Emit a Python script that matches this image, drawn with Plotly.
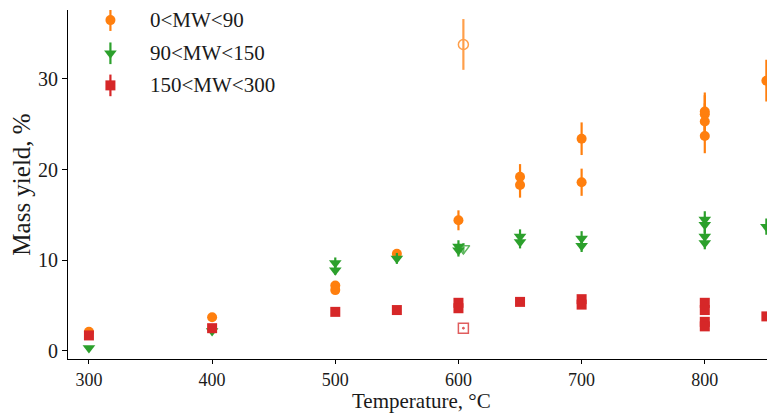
import plotly.graph_objects as go

# ---- data ----
t_low = [300, 400, 500, 500, 550, 600, 650, 650, 700, 700, 800, 800, 800, 800, 850]
y_low = [2.1, 3.7, 7.2, 6.7, 10.7, 14.4, 19.2, 18.3, 23.4, 18.6, 26.4, 26.1, 25.3, 23.7, 29.8]
e_low = [0.15, 0.2, 0.35, 0.35, 0.5, 1.1, 1.4, 1.4, 1.8, 1.5, 2.1, 2.1, 2.0, 1.9, 2.3]

t_mid = [300, 400, 500, 500, 550, 600, 600, 650, 650, 700, 700, 800, 800, 800, 800, 850]
y_mid = [0.3, 2.2, 9.7, 8.9, 10.2, 11.5, 11.1, 12.6, 12.0, 12.4, 11.6, 14.5, 13.9, 12.6, 11.9, 13.7]
e_mid = [0.05, 0.2, 0.6, 0.5, 0.6, 0.7, 0.7, 0.8, 0.7, 0.8, 0.7, 0.9, 0.9, 0.8, 0.7, 0.9]

t_high = [300, 400, 500, 550, 600, 600, 650, 700, 700, 800, 800, 800, 800, 850]
y_high = [1.7, 2.5, 4.3, 4.5, 5.3, 4.7, 5.4, 5.7, 5.1, 5.3, 4.5, 3.2, 2.7, 3.8]
e_high = [0.1, 0.1, 0.15, 0.15, 0.2, 0.2, 0.2, 0.2, 0.2, 0.2, 0.2, 0.15, 0.1, 0.15]

# hollow (separate) measurement
t_open = [604]
y_open_low = [33.8]
e_open_low = [2.8]
y_open_mid = [11.3]
e_open_mid = [0.6]
y_open_high = [2.5]
e_open_high = [0.1]

labels = ["0<MW<90", "90<MW<150", "150<MW<300"]
x_title = "Temperature, °C"
y_title = "Mass yield, %"
x_ticks = [300, 400, 500, 600, 700, 800]
y_ticks = [0, 10, 20, 30]

C_OR = "#ff7f0e"
C_GR = "#2ca02c"
C_RD = "#d62728"
FONT = "Liberation Serif"
TXT = "#1a1a1a"

fig = go.Figure()


def err(e, c, th=2.2):
    return dict(type="data", array=e, visible=True, color=c, thickness=th, width=0)


fig.add_trace(go.Scatter(x=t_low, y=y_low, mode="markers",
                         marker=dict(symbol="circle", size=10, color=C_OR),
                         error_y=err(e_low, C_OR), showlegend=False))
fig.add_trace(go.Scatter(x=t_mid, y=y_mid, mode="markers",
                         marker=dict(symbol="triangle-down", size=11, color=C_GR),
                         error_y=err(e_mid, C_GR), showlegend=False))
fig.add_trace(go.Scatter(x=t_high, y=y_high, mode="markers",
                         marker=dict(symbol="square", size=10, color=C_RD),
                         error_y=err(e_high, C_RD), showlegend=False))

fig.add_trace(go.Scatter(x=t_open, y=y_open_low, mode="markers", opacity=0.75,
                         marker=dict(symbol="circle-open", size=10, color=C_OR, line=dict(width=1.5)),
                         error_y=err(e_open_low, C_OR), showlegend=False))
fig.add_trace(go.Scatter(x=t_open, y=y_open_mid, mode="markers", opacity=0.75,
                         marker=dict(symbol="triangle-down-open", size=11, color=C_GR, line=dict(width=1.5)),
                         error_y=err(e_open_mid, C_GR), showlegend=False))
fig.add_trace(go.Scatter(x=t_open, y=y_open_high, mode="markers", opacity=0.75,
                         marker=dict(symbol="square-open-dot", size=10, color=C_RD, line=dict(width=1.5)),
                         error_y=err(e_open_high, C_RD), showlegend=False))

# ---- manual legend (in an overlay 0..1 axis) ----
leg_y = [0.971, 0.876, 0.784]
leg_sym = ["circle", "triangle-down", "square"]
leg_col = [C_OR, C_GR, C_RD]
leg_size = [10, 11, 10]
for yy, s, c, sz, lab in zip(leg_y, leg_sym, leg_col, leg_size, labels):
    fig.add_trace(go.Scatter(x=[0.06], y=[yy], mode="markers", xaxis="x2", yaxis="y2",
                             marker=dict(symbol=s, size=sz, color=c),
                             error_y=err([0.031], c), showlegend=False, hoverinfo="skip"))
    fig.add_annotation(x=0.113, y=yy, xref="x2", yref="y2", text=lab, showarrow=False,
                       xanchor="left", yanchor="middle", font=dict(family=FONT, size=21, color=TXT))

# x-axis title as an annotation just under the tick labels
fig.add_annotation(x=0.5, y=0, xref="paper", yref="paper", text=x_title, showarrow=False,
                   xanchor="center", yanchor="middle", yshift=-42,
                   font=dict(family=FONT, size=21, color=TXT))

# the page body adds an 8px offset, so the figure is 8px smaller on each axis
fig.update_layout(
    width=767, height=406,
    margin=dict(l=60, r=0, t=2, b=55),
    paper_bgcolor="white", plot_bgcolor="white",
    font=dict(family=FONT, color=TXT),
    xaxis=dict(range=[283, 857], tickvals=x_ticks, showgrid=False, zeroline=False,
               showline=True, linecolor="black", linewidth=1.2, mirror=False,
               ticks="outside", ticklen=4, tickcolor="black",
               tickfont=dict(family=FONT, size=18, color=TXT)),
    yaxis=dict(range=[-0.9, 37.6], tickvals=y_ticks, showgrid=False, zeroline=False,
               showline=True, linecolor="black", linewidth=1.2, mirror=False,
               ticks="outside", ticklen=5, tickcolor="black",
               tickfont=dict(family=FONT, size=20, color=TXT),
               title=dict(text=y_title, font=dict(family=FONT, size=25, color=TXT), standoff=4)),
    xaxis2=dict(range=[0, 1], overlaying="x", visible=False, fixedrange=True),
    yaxis2=dict(range=[0, 1], overlaying="y", visible=False, fixedrange=True, anchor="x2"),
)

fig.write_html("out.html")
